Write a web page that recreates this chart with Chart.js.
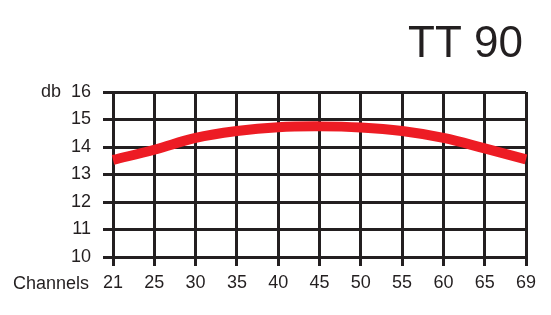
<!DOCTYPE html>
<html>
<head>
<meta charset="utf-8">
<script src="https://cdn.jsdelivr.net/npm/chart.js@4"></script>
<style>
  html, body { margin: 0; padding: 0; background: #fff; }
  canvas { display: block; }
</style>
</head>
<body>
<canvas id="chart" width="551" height="315"></canvas>
<script>
// channel numbers along the bottom
const channels = ["21", "25", "30", "35", "40", "45", "50", "55", "60", "65", "69"];
// gain in db
const gain = [13.53, 13.9, 14.33, 14.58, 14.72, 14.75, 14.71, 14.58, 14.33, 13.95, 13.55];
// y axis range
const dbMin = 10;
const dbMax = 16;

const ink = "#231f20";
const font = "'Liberation Sans', Arial, sans-serif";

// draws the "TT 90" heading and the "Channels" word left of the x labels
const extraText = {
    id: "extraText",
    afterDraw(chart) {
        const ctx = chart.ctx;
        ctx.save();
        ctx.fillStyle = ink;
        ctx.textAlign = "right";
        ctx.textBaseline = "alphabetic";
        ctx.font = "44px " + font;
        ctx.fillText("TT 90", 523, 57);
        ctx.font = "18px " + font;
        ctx.fillText("Channels", 89, 289);
        ctx.restore();
    }
};

new Chart(document.getElementById("chart"), {
    type: "line",
    data: {
        labels: channels,
        datasets: [{
            data: gain,
            borderColor: "#ed1c24",
            borderWidth: 10,
            borderCapStyle: "butt",
            tension: 0.4,
            pointRadius: 0,
            fill: false
        }]
    },
    options: {
        responsive: false,
        animation: false,
        devicePixelRatio: 1,
        layout: { padding: { top: 92, right: 25, left: 0, bottom: 0 } },
        plugins: { legend: { display: false }, tooltip: { enabled: false } },
        scales: {
            x: {
                offset: false,
                grid: { color: ink, lineWidth: 3, tickLength: 9, tickColor: ink },
                border: { color: ink, width: 3 },
                ticks: { color: ink, font: { family: font, size: 18 }, padding: 6, maxRotation: 0, autoSkip: false },
                afterFit(scale) { scale.height = 58; }
            },
            y: {
                min: dbMin,
                max: dbMax,
                grid: { color: ink, lineWidth: 3, tickLength: 10, tickColor: ink },
                border: { color: ink, width: 3 },
                ticks: {
                    stepSize: 1,
                    color: ink,
                    font: { family: font, size: 18 },
                    padding: 12,
                    callback: v => v === dbMax ? "db  " + v : String(v)
                },
                afterFit(scale) { scale.width = 113; }
            }
        }
    },
    plugins: [extraText]
});
</script>
</body>
</html>
